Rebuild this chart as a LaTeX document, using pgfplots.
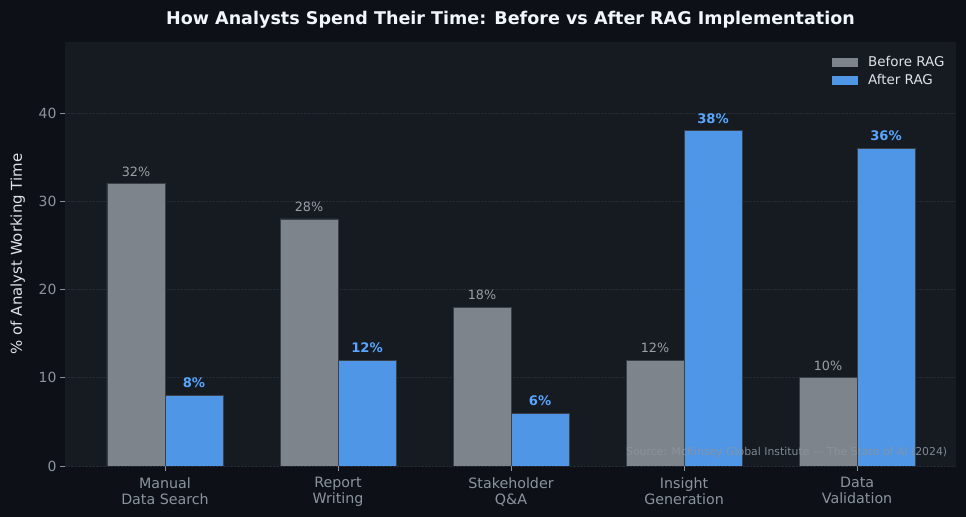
\documentclass[border=0pt]{standalone}
\usepackage{fontspec}
\setmainfont{DejaVu Sans}
\usepackage{pgfplots}
\pgfplotsset{compat=1.18}
\definecolor{figbg}{HTML}{0D1117}
\definecolor{axbg}{HTML}{161B22}
\definecolor{graybar}{HTML}{7D848C}
\definecolor{bluebar}{HTML}{4F96E6}
\definecolor{tickc}{HTML}{8B949E}
\definecolor{gridc}{HTML}{252B33}
\definecolor{edgec}{HTML}{3A4048}
\definecolor{labc}{HTML}{DDE3E9}
\definecolor{titc}{HTML}{F0F6FC}
\definecolor{bluelab}{HTML}{58A6FF}
\definecolor{graylab}{HTML}{9AA0A6}
\begin{document}
\begin{tikzpicture}[x=1bp,y=1bp]
\fill[figbg] (-65,-51) rectangle (901,466);
\node[text=titc, font=\bfseries\fontsize{17.6}{21}\selectfont] at (445.5,446.5) {How Analysts Spend Their Time: Before vs After RAG Implementation};
\begin{axis}[
  at={(0,0)}, anchor=south west,
  scale only axis, width=891bp, height=424bp,
  xmin=-0.578, xmax=4.572, ymin=0, ymax=48.05,
  ybar=0pt, bar width=58bp,
  axis background/.style={fill=axbg},
  axis line style={draw=none},
  xtick={0,1,2,3,4},
  xticklabels={{Manual\\Data Search},{Report\\Writing},{Stakeholder\\Q\&A},{Insight\\Generation},{Data\\Validation}},
  xticklabel style={align=center, text=tickc, font=\fontsize{14.3}{16}\selectfont, yshift=-3bp},
  ytick={0,10,20,30,40},
  yticklabel style={text=tickc, font=\fontsize{14}{16}\selectfont},
  ymajorgrids, grid style={densely dotted, gridc, line width=0.6},
  tick align=outside, major tick length=5bp, tick style={tickc, line width=0.8},
  tick pos=left,
  /pgf/number format/assume math mode=true,
  ylabel={\% of Analyst Working Time},
  ylabel style={text=labc, font=\fontsize{15}{18}\selectfont, yshift=7bp},
  legend style={at={(0.993,0.976)}, anchor=north east, fill=axbg, draw=none,
    text=labc, font=\fontsize{13.5}{16}\selectfont, row sep=2.5bp},
  legend cell align=left,
  legend image code/.code={\fill[#1, draw=none] (0bp,-4.5bp) rectangle (26bp,4.5bp); \path[draw=none, fill=none] (26bp,0bp) -- (34bp,0bp);},
  nodes near coords={\pgfmathprintnumber{\pgfplotspointmeta}\%},
  nodes near coords align={vertical},
]
\addplot[fill=graybar, draw=edgec, line width=0.8,
  every node near coord/.append style={text=graylab, font=\fontsize{12.8}{15}\selectfont, yshift=3.5bp}]
  coordinates {(0,32) (1,28) (2,18) (3,12) (4,10)};
\addplot[fill=bluebar, draw=edgec, line width=0.8,
  every node near coord/.append style={text=bluelab, font=\bfseries\fontsize{13.2}{15}\selectfont, yshift=3.5bp}]
  coordinates {(0,8) (1,12) (2,6) (3,38) (4,36)};
\legend{Before RAG, After RAG}
\node[anchor=south east, text=tickc, opacity=0.9, font=\fontsize{10.9}{13}\selectfont] at (rel axis cs:0.994,0.012) {Source: McKinsey Global Institute — The State of AI (2024)};
\end{axis}
\end{tikzpicture}
\end{document}
